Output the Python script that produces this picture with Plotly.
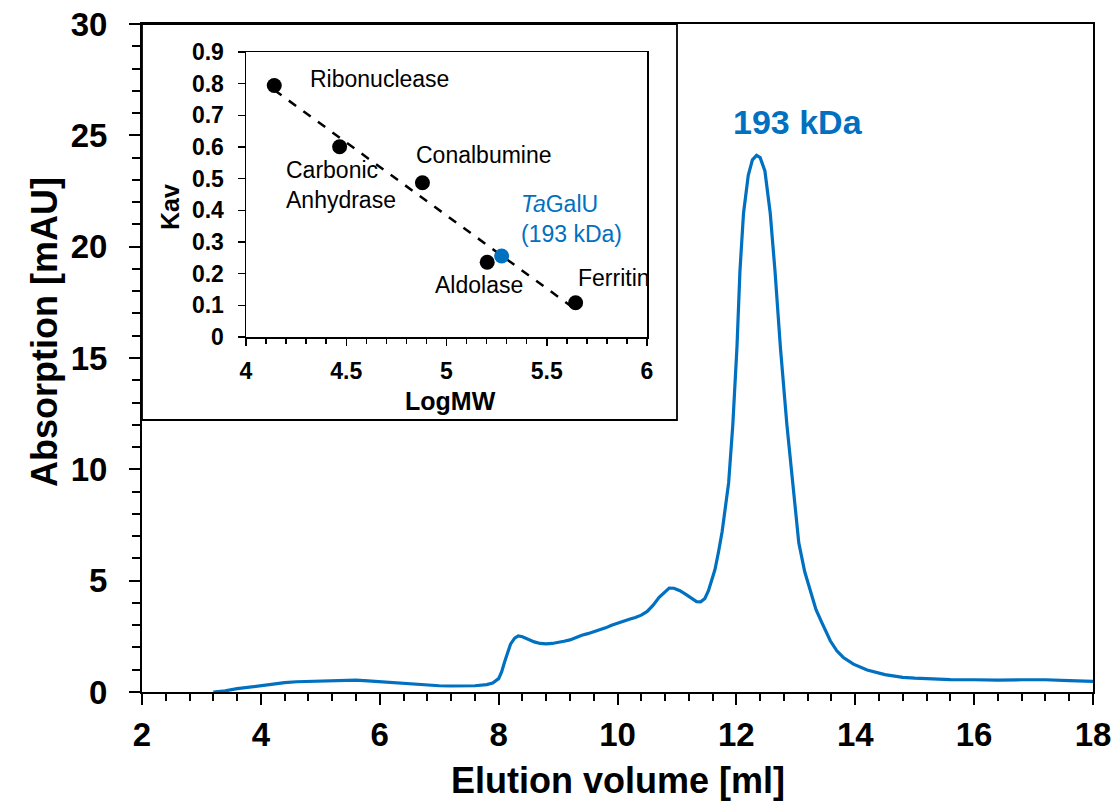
import numpy as np
import plotly.graph_objects as go

# ---- Main chromatogram (elution volume [ml], absorption [mAU]) ----
elution_ml = [3.20, 3.40, 3.60, 3.80, 4.00, 4.20, 4.40, 4.60, 4.80, 5.00, 5.20, 5.40, 5.60, 5.80,
              6.00, 6.20, 6.40, 6.60, 6.80, 7.00, 7.20, 7.40, 7.60, 7.80, 7.90, 8.00, 8.05, 8.10,
              8.15, 8.20, 8.27, 8.33, 8.40, 8.50, 8.60, 8.70, 8.80, 8.90, 9.00, 9.10, 9.20, 9.30,
              9.40, 9.50, 9.60, 9.70, 9.80, 9.90, 10.00, 10.10, 10.20, 10.30, 10.40, 10.50, 10.60,
              10.70, 10.80, 10.87, 10.95, 11.05, 11.15, 11.25, 11.33, 11.40, 11.47, 11.53, 11.58,
              11.64, 11.70, 11.76, 11.82, 11.87, 11.94, 12.01, 12.06, 12.12, 12.20, 12.27, 12.34,
              12.40, 12.48, 12.57, 12.65, 12.74, 12.85, 12.96, 13.05, 13.15, 13.24, 13.34, 13.44,
              13.58, 13.69, 13.80, 13.97, 14.20, 14.50, 14.80, 15.00, 15.30, 15.60, 16.00, 16.40,
              16.80, 17.20, 17.60, 18.00]
absorption_mau = [0.00, 0.05, 0.15, 0.22, 0.30, 0.36, 0.42, 0.46, 0.48, 0.50, 0.52, 0.54, 0.53, 0.50,
                  0.46, 0.42, 0.38, 0.34, 0.31, 0.28, 0.27, 0.27, 0.28, 0.33, 0.40, 0.60, 0.90, 1.35,
                  1.80, 2.15, 2.42, 2.52, 2.48, 2.35, 2.25, 2.18, 2.16, 2.18, 2.22, 2.28, 2.34, 2.45,
                  2.55, 2.62, 2.70, 2.79, 2.88, 3.00, 3.10, 3.18, 3.27, 3.35, 3.45, 3.62, 3.90,
                  4.25, 4.52, 4.67, 4.66, 4.55, 4.38, 4.20, 4.06, 4.05, 4.20, 4.55, 5.00,
                  5.50, 6.30, 7.20, 8.40, 9.40, 12.0, 15.5, 18.9, 21.5, 23.2, 23.9, 24.1,
                  24.0, 23.4, 21.5, 18.9, 15.5, 12.0, 8.9, 6.7, 5.4, 4.6, 3.7, 3.1,
                  2.3, 1.85, 1.55, 1.25, 0.99, 0.78, 0.66, 0.62, 0.58, 0.56, 0.55, 0.53,
                  0.55, 0.55, 0.51, 0.48]
peak_label = "193 kDa"

# ---- Inset calibration (LogMW vs Kav) ----
std_names = ["Ribonuclease", "Carbonic<br>Anhydrase", "Conalbumine", "Aldolase", "Ferritin"]
std_logmw = [4.141, 4.467, 4.880, 5.203, 5.644]
std_kav = [0.794, 0.601, 0.487, 0.236, 0.108]
sample_name = "<i>Ta</i>GalU<br>(193 kDa)"
sample_logmw = [5.275]
sample_kav = [0.256]

BLUE = "#0070C0"
FONT = "Liberation Sans, Arial, sans-serif"

W, H = 1118, 803
# target plot area in page pixels (body margin removed in post_script)
PX_L, PX_R, PX_T, PX_B = 142, 1093, 24, 692
ML, MT, MR, MB = PX_L, PX_T, W - PX_R, H - PX_B
PW, PH = PX_R - PX_L, PX_B - PX_T

def px_x(p):
    return (p - PX_L) / PW

def px_y(p):
    return (PX_B - p) / PH

fig = go.Figure()

fig.add_trace(go.Scatter(x=elution_ml, y=absorption_mau, mode="lines",
                         line=dict(color=BLUE, width=3.2), xaxis="x", yaxis="y",
                         showlegend=False, hoverinfo="skip"))

# regression line through standards
coef = np.polyfit(std_logmw, std_kav, 1)
fit_x = [min(std_logmw), max(std_logmw)]
fit_y = [coef[0] * v + coef[1] for v in fit_x]
fig.add_trace(go.Scatter(x=fit_x, y=fit_y, mode="lines",
                         line=dict(color="black", width=2.5, dash="dash"),
                         xaxis="x2", yaxis="y2", showlegend=False))
fig.add_trace(go.Scatter(x=std_logmw, y=std_kav, mode="markers",
                         marker=dict(color="black", size=15),
                         xaxis="x2", yaxis="y2", showlegend=False))
fig.add_trace(go.Scatter(x=sample_logmw, y=sample_kav, mode="markers",
                         marker=dict(color=BLUE, size=15),
                         xaxis="x2", yaxis="y2", showlegend=False))

tick_main = dict(family=FONT, size=33, color="black", weight="bold")
tick_inset = dict(family=FONT, size=23, color="black", weight="bold")

fig.update_layout(
    width=W, height=H,
    margin=dict(l=ML, r=MR, t=MT, b=MB, pad=0, autoexpand=False),
    paper_bgcolor="white", plot_bgcolor="white",
    font=dict(family=FONT, color="black"),
    xaxis=dict(range=[2, 18], dtick=2, showgrid=False, zeroline=False, automargin=False,
               showline=True, linecolor="black", linewidth=2, mirror=True,
               ticks="outside", ticklen=11, tickwidth=2, tickcolor="black",
               minor=dict(dtick=0.4, ticks="outside", ticklen=7, tickwidth=2, tickcolor="black"),
               tickfont=tick_main, ticklabelstandoff=1, ticklabeloverflow="allow",
               domain=[0, 1]),
    yaxis=dict(range=[0, 30], dtick=5, showgrid=False, zeroline=False, automargin=False,
               showline=True, linecolor="black", linewidth=2, mirror=True,
               ticks="outside", ticklen=11, tickwidth=2, tickcolor="black",
               minor=dict(dtick=1, ticks="outside", ticklen=8, tickwidth=2, tickcolor="black"),
               tickfont=tick_main, ticklabelstandoff=15, ticklabeloverflow="allow",
               domain=[0, 1]),
    xaxis2=dict(range=[4, 6], dtick=0.5, showgrid=False, zeroline=False, automargin=False,
                showline=True, linecolor="black", linewidth=1.5, mirror=True,
                ticks="outside", ticklen=7, tickwidth=1.5, tickcolor="black",
                minor=dict(dtick=0.1, ticks="outside", ticklen=5, tickwidth=1.5, tickcolor="black"),
                tickfont=tick_inset, ticklabelstandoff=6, ticklabeloverflow="allow",
                domain=[px_x(246), px_x(647)], anchor="y2"),
    yaxis2=dict(range=[0, 0.9], dtick=0.1, showgrid=False, zeroline=False, automargin=False,
                showline=True, linecolor="black", linewidth=1.5, mirror=True,
                ticks="outside", ticklen=7, tickwidth=1.5, tickcolor="black",
                tickfont=tick_inset, ticklabelstandoff=9, tickformat=".1~f",
                ticklabeloverflow="allow",
                domain=[px_y(337), px_y(52)], anchor="x2"),
    shapes=[dict(type="rect", xref="paper", yref="paper",
                 x0=0, x1=px_x(677), y0=px_y(420), y1=1,
                 line=dict(color="black", width=1.8), fillcolor="white", layer="below")],
)

ann = []
# axis titles
ann.append(dict(text="Elution volume [ml]", xref="paper", yref="paper", x=0.5, y=px_y(780),
                xanchor="center", yanchor="middle", showarrow=False,
                font=dict(family=FONT, size=36, color="black", weight="bold")))
ann.append(dict(text="Absorption [mAU]", xref="paper", yref="paper", x=px_x(44), y=px_y(332),
                xanchor="center", yanchor="middle", showarrow=False, textangle=-90,
                font=dict(family=FONT, size=36, color="black", weight="bold")))
ann.append(dict(text="LogMW", xref="paper", yref="paper", x=px_x(450), y=px_y(401),
                xanchor="center", yanchor="middle", showarrow=False,
                font=dict(family=FONT, size=25, color="black", weight="bold")))
ann.append(dict(text="Kav", xref="paper", yref="paper", x=px_x(170), y=px_y(207),
                xanchor="center", yanchor="middle", showarrow=False, textangle=-90,
                font=dict(family=FONT, size=25, color="black", weight="bold")))

# peak label
ipk = int(np.argmax(absorption_mau))
ann.append(dict(text=peak_label, x=elution_ml[ipk], y=absorption_mau[ipk], xref="x", yref="y",
                showarrow=False, xanchor="center", yanchor="middle", xshift=41, yshift=33,
                font=dict(family=FONT, size=34, color=BLUE, weight="bold")))

# inset point labels (offsets in px relative to each point)
offsets = [(34, 7), (-56, -38), (-8, 28), (-54, -23), (0, 25)]
for name, lx, ly, (dx, dy) in zip(std_names, std_logmw, std_kav, offsets):
    ann.append(dict(text=name, x=lx, y=ly, xref="x2", yref="y2", showarrow=False,
                    xanchor="left", yanchor="middle", align="left", xshift=dx, yshift=dy,
                    font=dict(family=FONT, size=23, color="black")))
ann.append(dict(text=sample_name, x=sample_logmw[0], y=sample_kav[0], xref="x2", yref="y2",
                showarrow=False, xanchor="left", yanchor="middle", align="left",
                xshift=17, yshift=37, font=dict(family=FONT, size=23, color=BLUE)))

fig.update_layout(annotations=ann)
fig.write_html("out.html", config={"displayModeBar": False, "staticPlot": True},
               post_script="document.body.style.margin='0';document.body.style.overflow='hidden';")
